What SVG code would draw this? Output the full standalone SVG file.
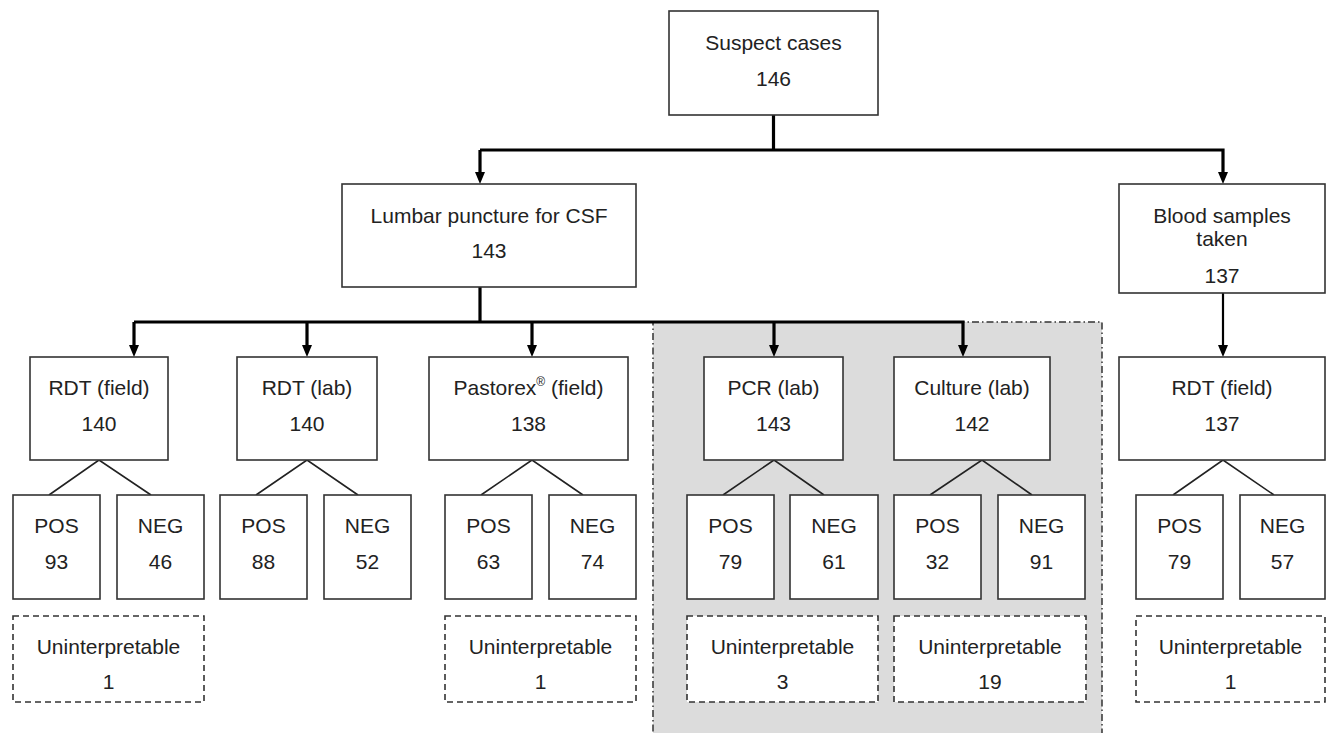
<svg xmlns="http://www.w3.org/2000/svg" width="1326" height="733" viewBox="0 0 1326 733">
<defs>
<style>
.box{fill:#fff;stroke:#333;stroke-width:1.6}
.dash{fill:#fff;stroke:#333;stroke-width:1.6;stroke-dasharray:6 4}
.region{fill:#dcdcdc;stroke:#333;stroke-width:1.5;stroke-dasharray:7 3 1.5 3}
text{font-family:"Liberation Sans",Arial,Helvetica,sans-serif;font-size:21px;fill:#222;text-anchor:middle}
.thick{stroke:#000;stroke-width:3.2;fill:none}
.mid{stroke:#000;stroke-width:2.2;fill:none}
.thin{stroke:#222;stroke-width:1.6;fill:none}
</style>
<marker id="ah" viewBox="0 0 12 10" refX="1" refY="5" markerWidth="12" markerHeight="10" markerUnits="userSpaceOnUse" orient="auto">
<path d="M0,0 L12,5 L0,10 z" fill="#000"/>
</marker>
</defs>
<rect width="1326" height="733" fill="#fff"/>
<rect id="lab-region" class="region" x="653" y="322" width="449" height="430"/>
<g id="connectors">
<path class="thick" d="M773.5,115 V150"/>
<path class="thick" d="M480,150 H1223 V173" marker-end="url(#ah)"/>
<path class="thick" d="M480,150 V173" marker-end="url(#ah)"/>
<path class="thick" d="M480,287 V322"/>
<path class="thick" d="M134,322 H963 V346" marker-end="url(#ah)"/>
<path class="thick" d="M134,322 V346" marker-end="url(#ah)"/>
<path class="thick" d="M307,322 V346" marker-end="url(#ah)"/>
<path class="thick" d="M532,322 V346" marker-end="url(#ah)"/>
<path class="thick" d="M774,322 V346" marker-end="url(#ah)"/>
<path class="mid" d="M1223,293 V346" marker-end="url(#ah)"/>
<path class="thin" d="M49,495 L99,460 L151,495"/>
<path class="thin" d="M256,495 L307,460 L358,495"/>
<path class="thin" d="M481,495 L532,460 L583,495"/>
<path class="thin" d="M723,495 L774,460 L824,495"/>
<path class="thin" d="M930,495 L982,460 L1032,495"/>
<path class="thin" d="M1173,495 L1223,460 L1274,495"/>
</g>
<g id="suspect"><rect class="box" x="669" y="11" width="209" height="104"/><text x="773.5" y="50">Suspect cases</text><text x="773.5" y="86">146</text></g>
<g id="lumbar"><rect class="box" x="342" y="184" width="294" height="103"/><text x="489" y="223">Lumbar puncture for CSF</text><text x="489" y="258">143</text></g>
<g id="blood"><rect class="box" x="1119" y="184" width="206" height="109"/><text x="1222" y="223">Blood samples</text><text x="1222" y="246">taken</text><text x="1222" y="283">137</text></g>
<g id="rdt-field"><rect class="box" x="30" y="357" width="138" height="103"/><text x="99" y="395">RDT (field)</text><text x="99" y="431">140</text></g>
<g id="rdt-lab"><rect class="box" x="237" y="357" width="140" height="103"/><text x="307" y="395">RDT (lab)</text><text x="307" y="431">140</text></g>
<g id="pastorex"><rect class="box" x="429" y="357" width="199" height="103"/><text x="528.5" y="395">Pastorex<tspan font-size="12" dy="-9">®</tspan><tspan dy="9"> (field)</tspan></text><text x="528.5" y="431">138</text></g>
<g id="pcr"><rect class="box" x="704" y="357" width="139" height="103"/><text x="773.5" y="395">PCR (lab)</text><text x="773.5" y="431">143</text></g>
<g id="culture"><rect class="box" x="894" y="357" width="156" height="103"/><text x="972" y="395">Culture (lab)</text><text x="972" y="431">142</text></g>
<g id="rdt-blood"><rect class="box" x="1119" y="357" width="206" height="103"/><text x="1222" y="395">RDT (field)</text><text x="1222" y="431">137</text></g>
<g id="rf-pos"><rect class="box" x="13" y="495" width="87" height="104"/><text x="56.5" y="533">POS</text><text x="56.5" y="569">93</text></g>
<g id="rf-neg"><rect class="box" x="117" y="495" width="87" height="104"/><text x="160.5" y="533">NEG</text><text x="160.5" y="569">46</text></g>
<g id="rl-pos"><rect class="box" x="220" y="495" width="87" height="104"/><text x="263.5" y="533">POS</text><text x="263.5" y="569">88</text></g>
<g id="rl-neg"><rect class="box" x="324" y="495" width="87" height="104"/><text x="367.5" y="533">NEG</text><text x="367.5" y="569">52</text></g>
<g id="past-pos"><rect class="box" x="445" y="495" width="87" height="104"/><text x="488.5" y="533">POS</text><text x="488.5" y="569">63</text></g>
<g id="past-neg"><rect class="box" x="549" y="495" width="87" height="104"/><text x="592.5" y="533">NEG</text><text x="592.5" y="569">74</text></g>
<g id="pcr-pos"><rect class="box" x="687" y="495" width="87" height="104"/><text x="730.5" y="533">POS</text><text x="730.5" y="569">79</text></g>
<g id="pcr-neg"><rect class="box" x="790" y="495" width="88" height="104"/><text x="834" y="533">NEG</text><text x="834" y="569">61</text></g>
<g id="cult-pos"><rect class="box" x="894" y="495" width="87" height="104"/><text x="937.5" y="533">POS</text><text x="937.5" y="569">32</text></g>
<g id="cult-neg"><rect class="box" x="998" y="495" width="87" height="104"/><text x="1041.5" y="533">NEG</text><text x="1041.5" y="569">91</text></g>
<g id="blood-pos"><rect class="box" x="1136" y="495" width="87" height="104"/><text x="1179.5" y="533">POS</text><text x="1179.5" y="569">79</text></g>
<g id="blood-neg"><rect class="box" x="1240" y="495" width="85" height="104"/><text x="1282.5" y="533">NEG</text><text x="1282.5" y="569">57</text></g>
<g id="rf-unint"><rect class="dash" x="13" y="616" width="191" height="86"/><text x="108.5" y="654">Uninterpretable</text><text x="108.5" y="689">1</text></g>
<g id="past-unint"><rect class="dash" x="445" y="616" width="191" height="86"/><text x="540.5" y="654">Uninterpretable</text><text x="540.5" y="689">1</text></g>
<g id="pcr-unint"><rect class="dash" x="687" y="616" width="191" height="86"/><text x="782.5" y="654">Uninterpretable</text><text x="782.5" y="689">3</text></g>
<g id="cult-unint"><rect class="dash" x="894" y="616" width="192" height="86"/><text x="990" y="654">Uninterpretable</text><text x="990" y="689">19</text></g>
<g id="blood-unint"><rect class="dash" x="1136" y="616" width="189" height="86"/><text x="1230.5" y="654">Uninterpretable</text><text x="1230.5" y="689">1</text></g>
</svg>
